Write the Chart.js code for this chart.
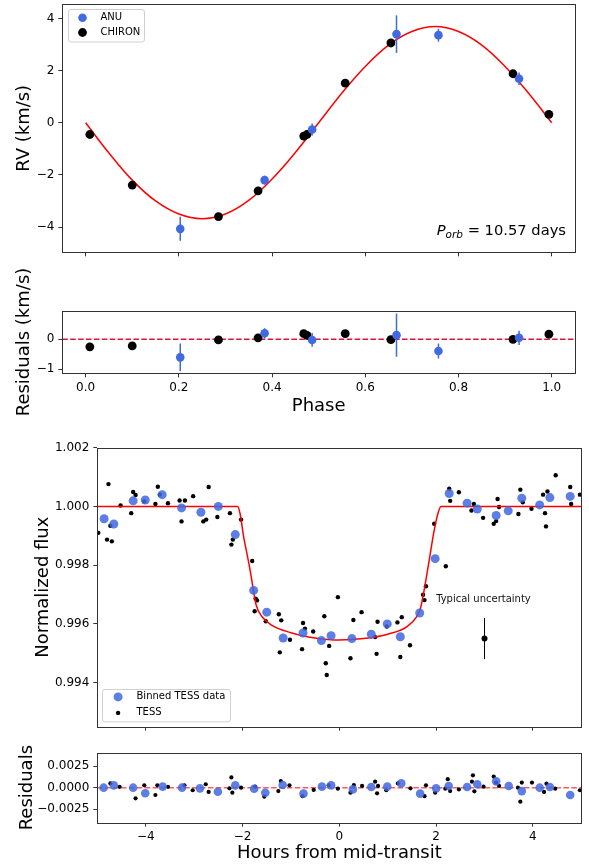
<!DOCTYPE html>
<html>
<head>
<meta charset="utf-8">
<title>RV and transit fit</title>
<script src="https://cdn.jsdelivr.net/npm/chart.js@4.4.1/dist/chart.umd.min.js"></script>
<style>
  body { margin: 0; background: #fff; }
  #fig { position: relative; width: 589px; height: 866px; overflow: hidden; }
  #fig canvas { position: absolute; left: 0; }
</style>
</head>
<body>
<div id="fig">
  <canvas id="rvChart" width="589" height="262" style="top:0px"></canvas>
  <canvas id="rvResChart" width="589" height="162" style="top:258px"></canvas>
  <canvas id="fluxChart" width="589" height="312" style="top:425px"></canvas>
  <canvas id="fluxResChart" width="589" height="129" style="top:737px"></canvas>
</div>
<script>
// ---- RV vs orbital phase ----
const phaseRange = [-0.05, 1.05];
const phaseTicks = [0, 0.2, 0.4, 0.6, 0.8, 1.0];
const rvTicks = [-4, -2, 0, 2, 4];
const rvResTicks = [-1, 0];

const anuPhase = [0.203, 0.384, 0.486, 0.667, 0.757, 0.930];
const anuRV    = [-4.07, -2.20, -0.26, 3.40, 3.36, 1.69];
const anuErr   = [0.46, 0.17, 0.23, 0.72, 0.25, 0.24];
const anuRes   = [-0.60, 0.20, -0.02, 0.14, -0.39, 0.05];

const chironPhase = [0.009, 0.100, 0.285, 0.370, 0.468, 0.475, 0.557, 0.655, 0.917, 0.994];
const chironRV    = [-0.45, -2.39, -3.60, -2.61, -0.51, -0.45, 1.52, 3.06, 1.88, 0.32];
const chironRes   = [-0.25, -0.22, -0.02, 0.05, 0.19, 0.13, 0.19, -0.01, 0.00, 0.17];

// fitted orbit
const modelPhase = [0, 0.05, 0.10, 0.15, 0.20, 0.25, 0.30, 0.35, 0.40, 0.45, 0.50,
                    0.55, 0.60, 0.65, 0.70, 0.75, 0.80, 0.85, 0.90, 0.95, 1.00];
const modelRV    = [0, -1.16, -2.20, -3.00, -3.50, -3.68, -3.50, -2.98, -2.16, -1.14, 0,
                    1.14, 2.16, 2.98, 3.50, 3.69, 3.50, 2.98, 2.16, 1.14, 0];

// ---- TESS transit ----
const hourRange = [-5, 5];
const hourTicks = [-4, -2, 0, 2, 4];
const fluxTicks = [0.994, 0.996, 0.998, 1.000, 1.002];
const fluxResTicks = [-0.0025, 0, 0.0025];

const tessHours = [-4.98, -4.80, -4.77, -4.73, -4.70, -4.52, -4.30, -4.26, -4.21, -4.03,
  -3.80, -3.75, -3.71, -3.54, -3.30, -3.26, -3.19, -3.02, -2.81, -2.75,
  -2.70, -2.52, -2.26, -2.23, -2.20, -2.03, -1.80, -1.75, -1.73, -1.70,
  -1.52, -1.25, -1.23, -1.20, -1.02, -0.77, -0.75, -0.71, -0.54, -0.31,
  -0.28, -0.26, -0.21, -0.03, 0.23, 0.29, 0.46, 0.74, 0.77, 0.79,
  0.98, 1.20, 1.26, 1.29, 1.46, 1.73, 1.76, 1.79, 1.96, 2.20,
  2.27, 2.29, 2.47, 2.73, 2.78, 2.97, 3.19, 3.24, 3.27, 3.30,
  3.70, 3.74, 3.79, 3.97, 4.21, 4.25, 4.27, 4.30, 4.47, 4.77,
  4.79, 4.97];
const tessFlux = [0.99910, 0.99887, 1.00076, 0.99934, 0.99881, 1.00003, 0.99977, 1.00049, 1.00039, 1.00017,
  1.00008, 1.00067, 1.00040, 1.00011, 1.00020, 0.99949, 1.00020, 1.00035, 0.99949, 0.99955,
  1.00066, 0.99964, 0.99977, 0.99870, 0.99887, 0.99955, 0.99814, 0.99643, 0.99686, 0.99680,
  0.99609, 0.99633, 0.99503, 0.99612, 0.99546, 0.99514, 0.99603, 0.99584, 0.99574, 0.99626,
  0.99466, 0.99426, 0.99525, 0.99691, 0.99483, 0.99613, 0.99640, 0.99555, 0.99498, 0.99607,
  0.99591, 0.99605, 0.99487, 0.99623, 0.99527, 0.99699, 0.99681, 0.99728, 0.99941, 0.99796,
  1.00060, 1.00019, 1.00048, 0.99986, 1.00008, 0.99961, 0.99941, 0.99950, 1.00025, 0.99998,
  0.99974, 1.00057, 1.00014, 0.99992, 1.00040, 0.99977, 0.99932, 1.00051, 1.00106, 1.00066,
  1.00008, 1.00040];

const binHours = [-4.86, -4.66, -4.26, -4.01, -3.66, -3.26, -2.86, -2.50, -2.15, -1.77,
  -1.50, -1.16, -0.75, -0.37, -0.17, 0.26, 0.66, 0.99, 1.26, 1.66,
  1.98, 2.27, 2.64, 2.85, 3.24, 3.49, 3.77, 4.14, 4.35, 4.77];
const binFlux = [0.99958, 0.99940, 1.00019, 1.00022, 1.00040, 0.99995, 0.99980, 1.00000, 0.99904, 0.99714,
  0.99640, 0.99552, 0.99569, 0.99543, 0.99560, 0.99550, 0.99565, 0.99600, 0.99556, 0.99637,
  0.99822, 1.00044, 1.00011, 0.99991, 0.99969, 0.99985, 1.00028, 1.00005, 1.00030, 1.00034];

// transit model
const transitHours = [-5, -2.10, -2.05, -1.98, -1.91, -1.84, -1.78, -1.72, -1.60, -1.40,
  -1.00, -0.50, 0, 0.50, 1.00, 1.40, 1.60, 1.68, 1.74, 1.81, 1.88, 1.95, 2.02, 2.10, 5];
const transitFlux = [1.0, 1.0, 0.99975, 0.99900, 0.99840, 0.99780, 0.99720, 0.99665, 0.99625, 0.99596,
  0.99570, 0.99552, 0.99545, 0.99550, 0.99565, 0.99591, 0.99625, 0.99655, 0.99704, 0.99770,
  0.99840, 0.99910, 0.99965, 1.0, 1.0];

const uncHours = [3.0];
const uncFlux = [0.9955];
const uncErr = [0.0007];

const tessResHours = [-4.73, -4.54, -4.21, -4.03, -3.80, -3.76, -3.54, -3.20, -3.03, -2.76,
  -2.70, -2.27, -2.23, -2.21, -2.03, -1.74, -1.55, -1.26, -1.21, -1.03,
  -0.76, -0.53, -0.22, -0.03, 0.23, 0.30, 0.47, 0.74, 0.78, 0.80,
  0.97, 1.21, 1.47, 1.76, 1.79, 1.98, 2.19, 2.24, 2.29, 2.47,
  2.74, 2.76, 2.79, 2.98, 3.19, 3.24, 3.30, 3.69, 3.74, 3.77,
  3.98, 4.23, 4.28, 4.46, 4.97];
const tessRes = [0.0005, 0.0001, -0.00125, 0.00027, -0.00086, 0.00027, 0.0001, 0.00027, -0.0003, 0.0004,
  -0.0005, -0.00008, 0.0012, -0.00059, 0, 0.00012, -0.00105, -0.0004, 0.00078, 0.00027,
  -0.001, -0.00027, 0.00027, -0.00012, -0.00059, 0.00031, 0.0002, 0.0007, -0.00066, 0.0002,
  -0.0003, 0.0005, -0.00008, -0.001, 0.00027, -0.00059, -0.00012, 0.001, -0.0004, -0.0002,
  0.0007, 0.00145, -0.00043, 0.00012, 0.0013, 0.0006, 0.0002, 0, -0.00164, 0.0006,
  0.0006, -0.0005, 0.00047, -0.00012, -0.0003];

const binResHours = [-4.87, -4.66, -4.26, -4.01, -3.65, -3.25, -2.88, -2.51, -2.15, -1.76,
  -1.53, -1.17, -0.74, -0.36, -0.17, 0.28, 0.66, 0.99, 1.28, 1.67,
  2.00, 2.26, 2.64, 2.85, 3.24, 3.50, 3.77, 4.14, 4.35, 4.77];
const binRes = [0, 0.00027, 0, -0.00066, 0.00012, 0, -0.00008, -0.00047, 0.00027, -0.00012,
  -0.00059, 0.00031, -0.0007, 0.00012, 0.00027, -0.0002, 0.00008, 0.00012, 0.0005, -0.0007,
  -0.00008, 0.0002, 0.00008, 0.0004, 0.00074, 0.0002, -0.0004, 0, 0.00008, -0.00086];

// ---- helpers ----
Chart.defaults.font.family = "'DejaVu Sans', sans-serif";
Chart.defaults.font.size = 12;
Chart.defaults.color = '#000';

const FONT = "'DejaVu Sans', sans-serif";
const BLUE = 'rgb(65,105,225)';
const BLUE_BIN = 'rgba(65,105,225,0.85)';

const zip = (xs, ys) => xs.map((x, i) => ({ x: x, y: ys[i] }));
const signed = d => v => (v < 0 ? '\u2212' : '') + Math.abs(v).toFixed(d);

function axis(cfg) {
  return {
    type: 'linear',
    min: cfg.min,
    max: cfg.max,
    afterBuildTicks: s => { s.ticks = cfg.ticks.map(v => ({ value: v })); },
    afterFit: s => {
      if (s.isHorizontal()) s.height = cfg.size; else s.width = cfg.size;
      s.paddingTop = s.paddingBottom = s.paddingLeft = s.paddingRight = 0;
    },
    border: { display: false },
    grid: { drawOnChartArea: false, drawTicks: true, tickLength: 4, tickWidth: 1, tickColor: '#333' },
    ticks: {
      display: !!cfg.fmt,
      padding: cfg.pad != null ? cfg.pad : 4,
      color: '#000',
      font: { size: 12 },
      maxRotation: 0,
      autoSkip: false,
      callback: v => (cfg.fmt ? cfg.fmt(v) : '')
    },
    title: cfg.title
      ? { display: true, text: cfg.title, color: '#000', font: { size: 18 }, padding: cfg.titlePad }
      : { display: false }
  };
}

function options(padding, xAxis, yAxis) {
  return {
    responsive: false,
    animation: false,
    events: [],
    layout: { padding: padding },
    plugins: { legend: { display: false }, tooltip: { enabled: false } },
    scales: { x: xAxis, y: yAxis }
  };
}

// frame round every plot area
const frame = {
  id: 'frame',
  afterDatasetsDraw(chart) {
    const { ctx, chartArea: a } = chart;
    const l = Math.round(a.left) + 0.5, r = Math.round(a.right) + 0.5;
    const t = Math.round(a.top) + 0.5, b = Math.round(a.bottom) + 0.5;
    ctx.save();
    ctx.strokeStyle = '#333';
    ctx.lineWidth = 1;
    ctx.strokeRect(l, t, r - l, b - t);
    ctx.restore();
  }
};

// vertical error bars, drawn just under their own markers
const errorBars = {
  id: 'errorBars',
  beforeDatasetDraw(chart, args) {
    const ds = chart.data.datasets[args.index];
    if (!ds.errors) return;
    const ys = chart.scales.y, ctx = chart.ctx;
    ctx.save();
    ctx.strokeStyle = ds.errorColor;
    ctx.lineWidth = ds.errorWidth;
    args.meta.data.forEach((pt, i) => {
      const v = ds.data[i].y, e = ds.errors[i];
      ctx.beginPath();
      ctx.moveTo(pt.x, ys.getPixelForValue(v - e));
      ctx.lineTo(pt.x, ys.getPixelForValue(v + e));
      ctx.stroke();
    });
    ctx.restore();
  }
};

Chart.register(frame, errorBars);

function boxLegend(box) {
  return {
    id: 'boxLegend',
    afterDraw(chart) {
      const { ctx, chartArea: a } = chart;
      const x = Math.round(a.left + box.dx) + 0.5;
      const y = Math.round(box.fromBottom ? a.bottom - box.dy - box.h : a.top + box.dy) + 0.5;
      ctx.save();
      ctx.beginPath();
      ctx.roundRect(x, y, box.w, box.h, 2.5);
      ctx.fillStyle = 'rgba(255,255,255,0.8)';
      ctx.fill();
      ctx.strokeStyle = '#d0d0d0';
      ctx.lineWidth = 1;
      ctx.stroke();
      ctx.font = '10px ' + FONT;
      ctx.textBaseline = 'middle';
      box.rows.forEach((idx, i) => {
        const ds = chart.data.datasets[idx];
        const cy = y + box.row0 + i * box.rowGap;
        ctx.fillStyle = ds.backgroundColor;
        ctx.beginPath();
        ctx.arc(x + box.mx, cy, ds.pointRadius, 0, Math.PI * 2);
        ctx.fill();
        ctx.fillStyle = '#000';
        ctx.fillText(ds.label, x + box.tx, cy);
      });
      ctx.restore();
    }
  };
}

const periodNote = {
  id: 'periodNote',
  afterDraw(chart) {
    const { ctx, chartArea: a } = chart;
    const parts = [
      { t: 'P', f: 'italic 14.7px ' + FONT, dy: 0 },
      { t: 'orb', f: 'italic 10.5px ' + FONT, dy: 2.5 },
      { t: ' = 10.57 days', f: '14.7px ' + FONT, dy: 0 }
    ];
    ctx.save();
    let w = 0;
    parts.forEach(p => { ctx.font = p.f; p.w = ctx.measureText(p.t).width; w += p.w; });
    let x = a.right - 9 - w;
    const base = a.bottom - 17;
    ctx.fillStyle = '#000';
    ctx.textAlign = 'left';
    ctx.textBaseline = 'alphabetic';
    parts.forEach(p => { ctx.font = p.f; ctx.fillText(p.t, x, base + p.dy); x += p.w; });
    ctx.restore();
  }
};

const uncNote = {
  id: 'uncNote',
  afterDatasetsDraw(chart) {
    const { ctx, scales } = chart;
    ctx.save();
    ctx.font = '10px ' + FONT;
    ctx.fillStyle = '#111';
    ctx.textBaseline = 'middle';
    ctx.fillText('Typical uncertainty', scales.x.getPixelForValue(2.0), scales.y.getPixelForValue(0.99682));
    ctx.restore();
  }
};

// ---- panel 1: RV ----
new Chart(document.getElementById('rvChart'), {
  type: 'scatter',
  data: {
    datasets: [
      { label: 'model', data: zip(modelPhase, modelRV), showLine: true, borderColor: '#ff0000',
        borderWidth: 1.5, pointRadius: 0, tension: 0.4, order: 3 },
      { label: 'ANU', data: zip(anuPhase, anuRV), errors: anuErr, errorColor: BLUE, errorWidth: 1.5,
        backgroundColor: BLUE, pointRadius: 4.3, pointBorderWidth: 0, order: 1 },
      { label: 'CHIRON', data: zip(chironPhase, chironRV), backgroundColor: '#000',
        pointRadius: 4.4, pointBorderWidth: 0, order: 2 }
    ]
  },
  options: options({ top: 0.3, right: 14, left: 0, bottom: 0 },
    axis({ min: phaseRange[0], max: phaseRange[1], ticks: phaseTicks, size: 262 - 252.33 }),
    axis({ min: -4.97, max: 4.54, ticks: rvTicks, fmt: signed(0), size: 62.33,
           title: 'RV (km/s)', titlePad: { top: 13.2, bottom: 0 } })),
  plugins: [boxLegend({ dx: 5.4, dy: 4.4, w: 76, h: 32.5, mx: 14, tx: 32, row0: 8.3, rowGap: 14.7, rows: [1, 2] }),
            periodNote]
});

// ---- panel 2: RV residuals ----
new Chart(document.getElementById('rvResChart'), {
  type: 'scatter',
  data: {
    datasets: [
      { label: 'zero', data: zip(phaseRange, [0, 0]), showLine: true, borderColor: 'crimson',
        borderWidth: 1.5, borderDash: [5.5, 2.4], pointRadius: 0, order: 3 },
      { label: 'ANU', data: zip(anuPhase, anuRes), errors: anuErr, errorColor: BLUE, errorWidth: 1.5,
        backgroundColor: BLUE, pointRadius: 4.3, pointBorderWidth: 0, order: 1 },
      { label: 'CHIRON', data: zip(chironPhase, chironRes), backgroundColor: '#000',
        pointRadius: 4.4, pointBorderWidth: 0, order: 2 }
    ]
  },
  options: options({ top: 52.67, right: 14, left: 0, bottom: 0 },
    axis({ min: phaseRange[0], max: phaseRange[1], ticks: phaseTicks, fmt: v => v.toFixed(1), pad: 3,
           size: 162 - 115.33, title: 'Phase', titlePad: { top: 0, bottom: 3.2 } }),
    axis({ min: -1.133, max: 0.955, ticks: rvResTicks, fmt: signed(0), size: 62.33,
           title: 'Residuals (km/s)', titlePad: { top: 13.2, bottom: 0 } }))
});

// ---- panel 3: TESS light curve ----
new Chart(document.getElementById('fluxChart'), {
  type: 'scatter',
  data: {
    datasets: [
      { label: 'model', data: zip(transitHours, transitFlux), showLine: true, borderColor: '#ff0000',
        borderWidth: 1.5, pointRadius: 0, cubicInterpolationMode: 'monotone', order: 2, clip: 0 },
      { label: 'Binned TESS data', data: zip(binHours, binFlux), backgroundColor: BLUE_BIN,
        pointRadius: 4.5, pointBorderWidth: 0, order: 1, clip: 0 },
      { label: 'TESS', data: zip(tessHours, tessFlux), backgroundColor: '#000',
        pointRadius: 2.2, pointBorderWidth: 0, order: 3, clip: 0 },
      { label: 'uncertainty', data: zip(uncHours, uncFlux), errors: uncErr, errorColor: '#000', errorWidth: 1,
        backgroundColor: '#000', pointRadius: 3, pointBorderWidth: 0, order: 0 }
    ]
  },
  options: options({ top: 22.67, right: 7.67, left: 0, bottom: 0 },
    axis({ min: hourRange[0], max: hourRange[1], ticks: hourTicks, size: 312 - 301.67 }),
    axis({ min: 0.9925, max: 1.002, ticks: fluxTicks, fmt: v => v.toFixed(3), size: 97.33,
           title: 'Normalized flux', titlePad: { top: 32.1, bottom: 0 } })),
  plugins: [boxLegend({ dx: 4.4, dy: 5, fromBottom: true, w: 128, h: 32.4, mx: 15.6, tx: 34, row0: 7.4, rowGap: 16, rows: [1, 2] }),
            uncNote]
});

// ---- panel 4: transit residuals ----
new Chart(document.getElementById('fluxResChart'), {
  type: 'scatter',
  data: {
    datasets: [
      { label: 'zero', data: zip(hourRange, [0, 0]), showLine: true, borderColor: 'rgba(255,0,0,0.65)',
        borderWidth: 1.5, borderDash: [5.5, 2.4], pointRadius: 0, order: 3 },
      { label: 'Binned TESS data', data: zip(binResHours, binRes), backgroundColor: BLUE_BIN,
        pointRadius: 4.3, pointBorderWidth: 0, order: 1, clip: 0 },
      { label: 'TESS', data: zip(tessResHours, tessRes), backgroundColor: '#000',
        pointRadius: 2.1, pointBorderWidth: 0, order: 2, clip: 0 }
    ]
  },
  options: options({ top: 15.67, right: 7.67, left: 0, bottom: 0 },
    axis({ min: hourRange[0], max: hourRange[1], ticks: hourTicks, fmt: signed(0), pad: 3,
           size: 129 - 85.67, title: 'Hours from mid-transit', titlePad: { top: 0, bottom: 2.2 } }),
    axis({ min: -0.0041, max: 0.0041, ticks: fluxResTicks, fmt: signed(4), size: 97.33,
           title: 'Residuals', titlePad: { top: 16.1, bottom: 0 } }))
});
</script>
</body>
</html>
